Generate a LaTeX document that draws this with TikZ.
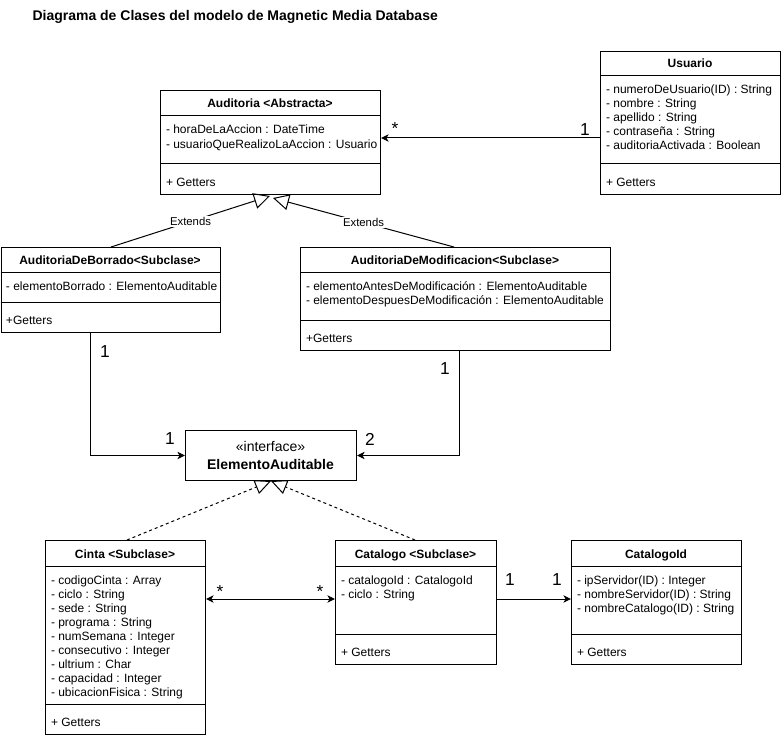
\documentclass[tikz,border=0pt]{standalone}
\usepackage{fontspec}
\setmainfont{Liberation Sans}
\usetikzlibrary{arrows.meta,calc}
\begin{document}
\begin{tikzpicture}[x=0.75pt,y=-0.75pt,line width=0.75pt,
  box/.style={draw, fill=white, anchor=north west, inner sep=0pt},
  hdr/.style={anchor=base, font=\fontsize{9pt}{10.5pt}\selectfont\bfseries, inner sep=0pt},
  att/.style={anchor=north west, align=left, font=\fontsize{9pt}{10.5pt}\selectfont, inner sep=0pt},
  mth/.style={anchor=base west, font=\fontsize{9pt}{10.5pt}\selectfont, inner sep=0pt},
  mult/.style={font=\fontsize{13pt}{15pt}\selectfont, inner sep=0pt},
  extlbl/.style={font=\fontsize{8.5pt}{10pt}\selectfont, fill=white, inner sep=1pt},
  ext/.style={-{Triangle[open,length=12pt,width=12pt]}},
  real/.style={dash pattern=on 2.25pt off 2.25pt, -{Triangle[open,length=12pt,width=11pt]}},
  assoc/.style={-{Stealth[length=5.7pt,width=5.5pt,inset=1.6pt]}},
  biassoc/.style={{Stealth[length=5.7pt,width=5.5pt,inset=1.6pt]}-{Stealth[length=5.7pt,width=5.5pt,inset=1.6pt]}},
]
\useasboundingbox (0,0) rectangle (781,738);

% title
\node[anchor=base west, inner sep=0pt, font=\fontsize{10.5pt}{12pt}\selectfont\bfseries] (title) at (32,21) {Diagrama de Clases del modelo de Magnetic Media Database};

% ---------- Auditoria ----------
\node[box, minimum width=165pt, minimum height=78pt] (aud) at (160,90) {};
\draw (160,116) -- (380,116);
\draw (160,164) -- (380,164);
\node[hdr] (audh) at (270,108) {Auditoria \textless Abstracta\textgreater};
\node[att] (auda) at (165.5,123.7) {\strut- horaDeLaAccion : DateTime\\- usuarioQueRealizoLaAccion : Usuario};
\node[mth] (audm) at (165.5,186) {+ Getters};

% ---------- Usuario ----------
\node[box, minimum width=135pt, minimum height=107.25pt] (usu) at (600,51) {};
\draw (600,76) -- (780,76);
\draw (600,164) -- (780,164);
\node[hdr] (usuh) at (690,67.8) {Usuario};
\node[att] (usua) at (605.5,83.7) {\strut- numeroDeUsuario(ID) : String\\- nombre : String\\- apellido : String\\- contraseña : String\\- auditoriaActivada : Boolean};
\node[mth] (usum) at (605.5,186) {+ Getters};

% ---------- AuditoriaDeBorrado ----------
\node[box, minimum width=164.6pt, minimum height=63.75pt] (borr) at (0.5,247) {};
\draw (0.5,272) -- (220,272);
\draw (0.5,302) -- (220,302);
\node[hdr] (borrh) at (110,264) {AuditoriaDeBorrado\textless Subclase\textgreater};
\node[att] (borra) at (5.5,279.7) {\strut- elementoBorrado : ElementoAuditable};
\node[mth] (borrm) at (5.5,324) {+Getters};

% ---------- AuditoriaDeModificacion ----------
\node[box, minimum width=232.5pt, minimum height=77.25pt] (modi) at (300,247) {};
\draw (300,272) -- (610,272);
\draw (300,320) -- (610,320);
\node[hdr] (modih) at (455,264) {AuditoriaDeModificacion\textless Subclase\textgreater};
\node[att] (modia) at (305.5,279.7) {\strut- elementoAntesDeModificación : ElementoAuditable\\- elementoDespuesDeModificación : ElementoAuditable};
\node[mth] (modim) at (305.5,342) {+Getters};

% ---------- ElementoAuditable ----------
\node[box, minimum width=128.25pt, minimum height=37.5pt] (elem) at (185,430) {};
\node[anchor=base, inner sep=0pt, font=\fontsize{10.5pt}{12pt}\selectfont] (elemst) at (270.5,451.5) {«interface»};
\node[anchor=base, inner sep=0pt, font=\fontsize{10.5pt}{12pt}\selectfont\bfseries] (elemn) at (270.5,469) {ElementoAuditable};

% ---------- Cinta ----------
\node[box, minimum width=120pt, minimum height=145.5pt] (cinta) at (45,540) {};
\draw (45,566) -- (205,566);
\draw (45,704) -- (205,704);
\node[hdr] (cintah) at (125,558) {Cinta \textless Subclase\textgreater};
\node[att] (cintaa) at (50.5,573.7) {\strut- codigoCinta : Array\\- ciclo : String\\- sede : String\\- programa : String\\- numSemana : Integer\\- consecutivo : Integer\\- ultrium : Char\\- capacidad : Integer\\- ubicacionFisica : String};
\node[mth] (cintam) at (50.5,726) {+ Getters};

% ---------- Catalogo ----------
\node[box, minimum width=120.75pt, minimum height=93pt] (cata) at (335,540) {};
\draw (335,566) -- (496,566);
\draw (335,634) -- (496,634);
\node[hdr] (catah) at (415.5,558) {Catalogo \textless Subclase\textgreater};
\node[att] (cataa) at (340.5,573.7) {\strut- catalogoId : CatalogoId\\- ciclo : String};
\node[mth] (catam) at (340.5,656) {+ Getters};

% ---------- CatalogoId ----------
\node[box, minimum width=127.5pt, minimum height=93pt] (cid) at (571,540) {};
\draw (571,566) -- (741,566);
\draw (571,634) -- (741,634);
\node[hdr] (cidh) at (656,558) {CatalogoId};
\node[att] (cida) at (576.5,573.7) {\strut- ipServidor(ID) : Integer\\- nombreServidor(ID) : String\\- nombreCatalogo(ID) : String};
\node[mth] (cidm) at (576.5,656) {+ Getters};

% ---------- connectors ----------
% Usuario -> Auditoria
\draw[assoc] (usu.west |- 0,138) -- (aud.east |- 0,138);
\node[mult] (m1) at (395,128.5) {*};
\node[mult] (m2) at (585,130) {1};

% generalisations
\draw[ext] ($(borr.north west)+(110.5,0)$) -- node[extlbl, pos=0.5] (ext1) {Extends} ($(aud.south west)+(110,1)$);
\draw[ext] ($(modi.north west)+(154,0)$) -- node[extlbl, pos=0.5] (ext2) {Extends} ($(aud.south west)+(113,3)$);

% Borrado -> ElementoAuditable
\draw[assoc] ($(borr.south west)+(89.5,0)$) |- (elem.west);
\node[mult] (m3) at (105,352) {1};
\node[mult] (m4) at (170,439) {1};

% Modificacion -> ElementoAuditable
\draw[assoc] ($(modi.south west)+(159.5,0)$) |- (elem.east);
\node[mult] (m5) at (445,369) {1};
\node[mult] (m6) at (370,439) {2};

% realisations
\draw[real] ($(cinta.north west)+(82,0)$) -- ($(elem.south west)+(86,0)$);
\draw[real] ($(cata.north west)+(80,0)$) -- ($(elem.south west)+(86,0)$);

% Cinta <-> Catalogo
\draw[biassoc] (cinta.east |- 0,599) -- (cata.west |- 0,599);
\node[mult] (m7) at (220,591.5) {*};
\node[mult] (m8) at (320,591.5) {*};

% Catalogo -> CatalogoId
\draw[assoc] (cata.east |- 0,599) -- (cid.west |- 0,599);
\node[mult] (m9) at (510,580) {1};
\node[mult] (m10) at (557,580) {1};
\end{tikzpicture}
\end{document}
